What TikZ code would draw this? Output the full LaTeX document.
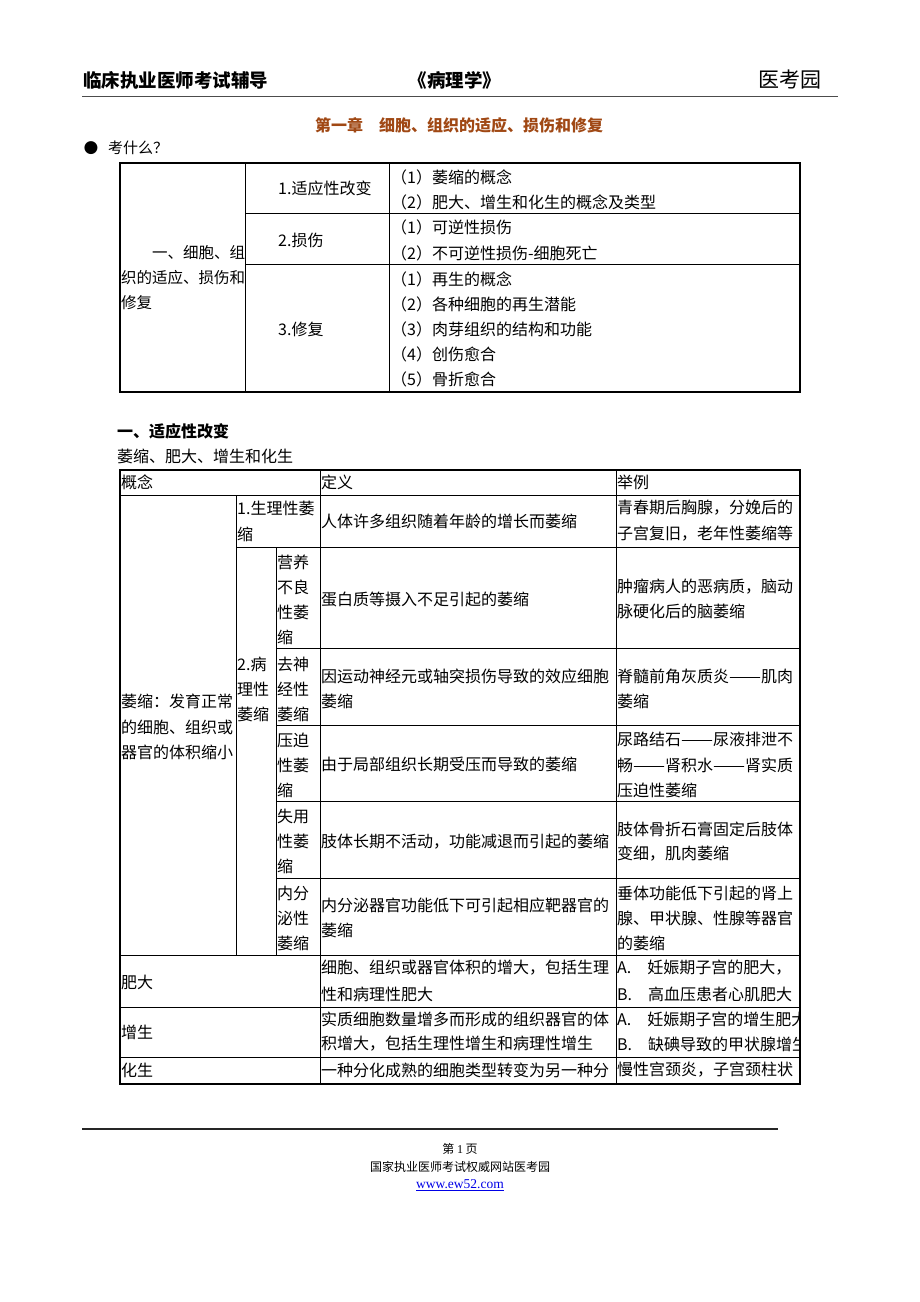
\documentclass[tikz,border=0pt]{standalone}
\usepackage{fontspec}
\usepackage{graphicx}
\setmainfont{Noto Sans CJK SC}
\newfontfamily\lserif{Liberation Serif}
\newfontfamily\djv{DejaVu Sans}
\definecolor{titlebrown}{RGB}{160,72,20}
\definecolor{linkblue}{RGB}{0,0,230}
\newcommand\dashpair{\resizebox{2em}{\height}{——}}
\begin{document}
\begin{tikzpicture}[x=1pt,y=-1pt,
  tx/.style={anchor=west,inner sep=0pt,font=\fontsize{16}{16}\selectfont},
  txs/.style={anchor=west,inner sep=0pt,font=\fontsize{15.5}{15.5}\selectfont},
  ctr/.style={anchor=center,inner sep=0pt,font=\fontsize{12}{12}\selectfont},
  gridline/.style={line width=1pt,black},
  outerline/.style={line width=1.4pt,black}]
\useasboundingbox (0,0) rectangle (920,1302);

% ---------- header ----------
\node[anchor=west,inner sep=0pt,font=\fontsize{18.5}{18.5}\selectfont\bfseries] (hdl) at (83,80) {临床执业医师考试辅导};
\node[anchor=center,inner sep=0pt,font=\fontsize{18.5}{18.5}\selectfont\bfseries] (hdc) at (455,80) {《病理学》};
\node[anchor=east,inner sep=0pt,font=\fontsize{21}{21}\selectfont] (hdr) at (822,80) {医考园};
\draw[line width=1.8pt,black!70] (82,96.5) -- (838,96.5);

\node[anchor=west,inner sep=0pt,font=\fontsize{16}{16}\selectfont\bfseries,text=titlebrown] (chap) at (315,125) {第一章　细胞、组织的适应、损伤和修复};
\node[anchor=center,inner sep=0pt,font=\djv\fontsize{17}{17}\selectfont] (bul) at (91,148) {●};
\node[anchor=west,inner sep=0pt,font=\fontsize{15}{15}\selectfont] (ask) at (108,148) {考什么？};

% ---------- table 1 ----------
\draw[outerline] (120,163) rectangle (800,392);
\draw[gridline] (245,163) -- (245,392);
\draw[gridline] (389,163) -- (389,392);
\draw[gridline] (245,213) -- (800,213);
\draw[gridline] (245,264) -- (800,264);

\node[txs] (a1) at (152,253) {一、细胞、组};
\node[txs] (a2) at (121,278) {织的适应、损伤和};
\node[txs] (a3) at (121,303) {修复};

\node[tx] (b1) at (278,188) {1.适应性改变};
\node[tx] (b2) at (278,240) {2.损伤};
\node[tx] (b3) at (278,329) {3.修复};

\node[tx] (c1) at (391,177) {（1）萎缩的概念};
\node[tx] (c2) at (391,202) {（2）肥大、增生和化生的概念及类型};
\node[tx] (c3) at (391,227) {（1）可逆性损伤};
\node[tx] (c4) at (391,253) {（2）不可逆性损伤-细胞死亡};
\node[tx] (c5) at (391,279) {（1）再生的概念};
\node[tx] (c6) at (391,304) {（2）各种细胞的再生潜能};
\node[tx] (c7) at (391,329) {（3）肉芽组织的结构和功能};
\node[tx] (c8) at (391,354) {（4）创伤愈合};
\node[tx] (c9) at (391,379) {（5）骨折愈合};

% ---------- section ----------
\node[anchor=west,inner sep=0pt,font=\fontsize{16}{16}\selectfont\bfseries] (sec) at (117,431) {一、适应性改变};
\node[tx] (sub) at (117,456) {萎缩、肥大、增生和化生};

% ---------- table 2 ----------
\draw[outerline] (120,470) rectangle (800,1084);
\draw[gridline] (320,470) -- (320,1084);
\draw[gridline] (616,470) -- (616,1084);
\draw[gridline] (236,495) -- (236,955);
\draw[gridline] (276,547) -- (276,955);
\draw[gridline] (120,495) -- (800,495);
\draw[gridline] (236,547) -- (800,547);
\draw[gridline] (276,648) -- (800,648);
\draw[gridline] (276,725) -- (800,725);
\draw[gridline] (276,801) -- (800,801);
\draw[gridline] (276,878) -- (800,878);
\draw[gridline] (120,955) -- (800,955);
\draw[gridline] (120,1007) -- (800,1007);
\draw[gridline] (120,1057) -- (800,1057);

% header row
\node[tx] (h1) at (121,482) {概念};
\node[tx] (h2) at (321,482) {定义};
\node[tx] (h3) at (617,482) {举例};

% atrophy label
\node[tx] (w1) at (121,701) {萎缩：发育正常};
\node[tx] (w2) at (121,727) {的细胞、组织或};
\node[tx] (w3) at (121,752) {器官的体积缩小};

% physiological
\node[tx] (p1) at (237,508) {1.生理性萎};
\node[tx] (p2) at (237,534) {缩};
\node[tx] (p3) at (321,521) {人体许多组织随着年龄的增长而萎缩};
\node[tx] (p4) at (617,508) {青春期后胸腺，分娩后的};
\node[tx] (p5) at (617,534) {子宫复旧，老年性萎缩等};

% pathological
\node[tx] (q1) at (237,664) {2.病};
\node[tx] (q2) at (237,689) {理性};
\node[tx] (q3) at (237,714) {萎缩};

% nutritional
\node[tx] (r1) at (277,562) {营养};
\node[tx] (r2) at (277,587) {不良};
\node[tx] (r3) at (277,612) {性萎};
\node[tx] (r4) at (277,637) {缩};
\node[tx] (r5) at (321,599) {蛋白质等摄入不足引起的萎缩};
\node[tx] (r6) at (617,587) {肿瘤病人的恶病质，脑动};
\node[tx] (r7) at (617,611) {脉硬化后的脑萎缩};

% denervation
\node[tx] (s1) at (277,664) {去神};
\node[tx] (s2) at (277,689) {经性};
\node[tx] (s3) at (277,714) {萎缩};
\node[tx] (s4) at (321,676) {因运动神经元或轴突损伤导致的效应细胞};
\node[tx] (s5) at (321,701) {萎缩};
\node[tx] (s6) at (617,676) {脊髓前角灰质炎\dashpair 肌肉};
\node[tx] (s7) at (617,701) {萎缩};

% pressure
\node[tx] (u1) at (277,740) {压迫};
\node[tx] (u2) at (277,765) {性萎};
\node[tx] (u3) at (277,790) {缩};
\node[tx] (u4) at (321,764) {由于局部组织长期受压而导致的萎缩};
\node[tx] (u5) at (617,739) {尿路结石\dashpair 尿液排泄不};
\node[tx] (u6) at (617,765) {畅\dashpair 肾积水\dashpair 肾实质};
\node[tx] (u7) at (617,790) {压迫性萎缩};

% disuse
\node[tx] (v1) at (277,816) {失用};
\node[tx] (v2) at (277,841) {性萎};
\node[tx] (v3) at (277,866) {缩};
\node[tx] (v4) at (321,842) {肢体长期不活动，功能减退而引起的萎缩};
\node[tx] (v5) at (617,829) {肢体骨折石膏固定后肢体};
\node[tx] (v6) at (617,854) {变细，肌肉萎缩};

% endocrine
\node[tx] (e1) at (277,893) {内分};
\node[tx] (e2) at (277,918) {泌性};
\node[tx] (e3) at (277,943) {萎缩};
\node[tx] (e4) at (321,905) {内分泌器官功能低下可引起相应靶器官的};
\node[tx] (e5) at (321,930) {萎缩};
\node[tx] (e6) at (617,893) {垂体功能低下引起的肾上};
\node[tx] (e7) at (617,918) {腺、甲状腺、性腺等器官};
\node[tx] (e8) at (617,943) {的萎缩};

% hypertrophy
\node[tx] (f1) at (121,982) {肥大};
\node[tx] (f2) at (321,968) {细胞、组织或器官体积的增大，包括生理};
\node[tx] (f3) at (321,994) {性和病理性肥大};
\node[tx] (f4) at (617,968) {A.\quad 妊娠期子宫的肥大，};
\node[tx] (f5) at (617,994) {B.\quad 高血压患者心肌肥大};

% hyperplasia
\node[tx] (g1) at (121,1032) {增生};
\node[tx] (g2) at (321,1019) {实质细胞数量增多而形成的组织器官的体};
\node[tx] (g3) at (321,1044) {积增大，包括生理性增生和病理性增生};
\begin{scope}
\clip (616,1007) rectangle (800,1057);
\node[tx] (g4) at (617,1019) {A.\quad 妊娠期子宫的增生肥大};
\node[tx] (g5) at (617,1044) {B.\quad 缺碘导致的甲状腺增生};
\end{scope}

% metaplasia
\node[tx] (m1) at (121,1070) {化生};
\node[tx] (m2) at (321,1070) {一种分化成熟的细胞类型转变为另一种分};
\node[tx] (m3) at (617,1070) {慢性宫颈炎，子宫颈柱状};

% ---------- footer ----------
\draw[line width=1.5pt,black!85] (82,1129) -- (778,1129);
\node[ctr] (pg) at (460,1149) {第 {\lserif 1} 页};
\node[ctr] (ft) at (460,1167) {国家执业医师考试权威网站医考园};
\node[anchor=center,inner sep=0pt,font=\lserif\fontsize{13.5}{13.5}\selectfont,text=linkblue] (url) at (460,1185) {\underline{www.ew52.com}};
\end{tikzpicture}
\end{document}
